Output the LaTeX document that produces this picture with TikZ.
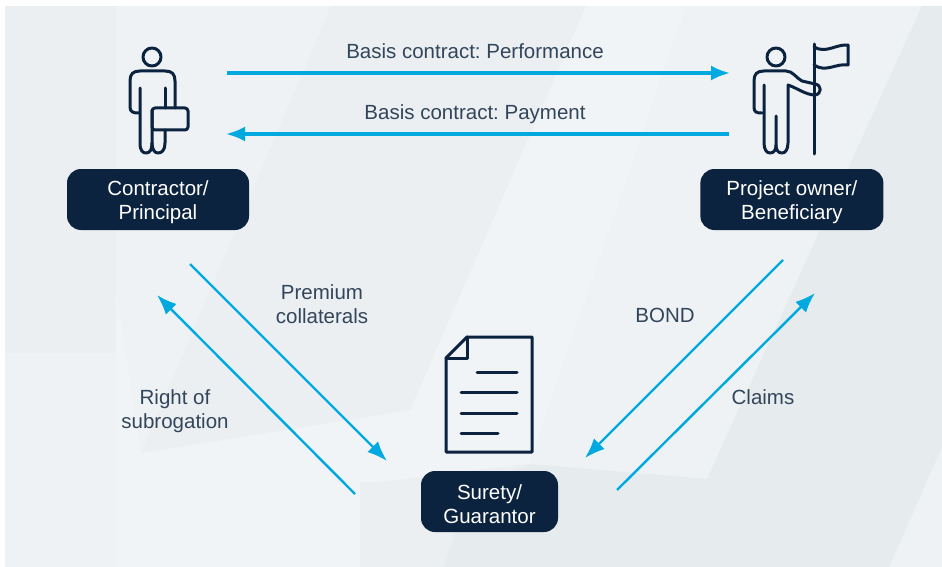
\documentclass[tikz,border=0pt]{standalone}
\usepackage{fontspec}
\setmainfont{Liberation Sans}
\usepackage{tikz}
\usetikzlibrary{positioning, calc}
\usetikzlibrary{arrows.meta}
\definecolor{navy}{HTML}{0C2340}
\definecolor{flowblue}{HTML}{00A9E0}
\definecolor{labelgrey}{HTML}{33455A}
\definecolor{bgbase}{HTML}{EEF2F4}
\definecolor{bgleft}{HTML}{EBEFF2}
\definecolor{bgleftlow}{HTML}{EEF2F4}
\definecolor{bglight}{HTML}{F0F4F6}
\definecolor{bgmid}{HTML}{EBEFF2}
\definecolor{bgdark}{HTML}{E6EBEE}
\newcommand{\topgap}{\rule{0pt}{21pt}}
\tikzset{
    party/.style={fill=navy, text=white, rounded corners=14pt, minimum height=61pt, align=center, font=\fontsize{20.5}{24}\selectfont\frenchspacing, inner sep=0pt},
    tag/.style={text=labelgrey, align=center, font=\fontsize{20.5}{24}\selectfont\frenchspacing, inner sep=0pt},
    flow/.style={draw=flowblue, fill=flowblue, line width=3.2pt, -{Latex[length=19pt,width=15pt]}},
    slant/.style={draw=flowblue, fill=flowblue, line width=2.4pt, -{Latex[length=20pt,width=15pt]}},
    icon/.style={draw=navy, line width=3pt, line cap=round, line join=round}
}
\begin{document}
\begin{tikzpicture}[x=1pt,y=-1pt]
    \useasboundingbox (0,0) rectangle (942,567);
    % background
    \fill[bgbase] (5,6) rectangle (942,567);
    \fill[bgleft] (5,6) rectangle (116,353);
    \fill[bgleftlow] (5,353) rectangle (116,567);
    \fill[bglight] (586,6) -- (686,6) -- (529,464) -- (380,482) -- (360,482) -- (360,567) -- (116,567) -- (116,290) -- (141,453) -- (410,410) -- cycle;
    \fill[bgmid] (331,6) -- (586,6) -- (410,410) -- (141,453) -- cycle;
    \fill[bgmid] (360,482) -- (380,482) -- (529,464) -- (470,490) -- (444,567) -- (360,567) -- cycle;
    \fill[bgdark] (922,6) -- (942,6) -- (942,447) -- (889,567) -- (444,567) -- (470,490) -- (529,464) -- (707,479) -- cycle;
    % parties
    \node[party, minimum width=182pt] (Con) at (158,199.5) {\topgap Contractor/\\Principal};
    \node[party, minimum width=183pt] (Own) [right=451pt of Con] {\topgap Project owner/\\Beneficiary};
    \node[party, minimum width=137pt] (Sur) at (489.5,501.5) {\topgap Surety/\\Guarantor};
    % labels
    \node[tag] (T0) at (475,51) {Basis contract: Performance};
    \node[tag] (T1) at (475,114) {Basis contract: Payment};
    \node[tag] (T2) at (322,304) {Premium\\collaterals};
    \node[tag] (T3) at (175,411) {Right of\\subrogation};
    \node[tag] (T4) at (665,315) {BOND};
    \node[tag] (T5) at (763,397) {Claims};
    % connector ends
    \coordinate (P0) at (227,73);
    \coordinate (P1) at (730,73);
    \coordinate (P2) at (729,134);
    \coordinate (P3) at (226,134);
    \coordinate (P4) at (190,264);
    \coordinate (P5) at (387,461);
    \coordinate (P6) at (355,494);
    \coordinate (P7) at (157,295);
    \coordinate (P8) at (783,260);
    \coordinate (P9) at (585,458);
    \coordinate (P10) at (617,490);
    \coordinate (P11) at (815,293);
    \draw[flow] (P0) -- (P1);
    \draw[flow] (P2) -- (P3);
    \draw[slant] (P4) -- (P5);
    \draw[slant] (P6) -- (P7);
    \draw[slant] (P8) -- (P9);
    \draw[slant] (P10) -- (P11);
    % contractor figure
    \draw[icon] (152,57) circle (9);
    \draw[icon] (139,113) .. controls (133,113) and (130,112) .. (130,107) -- (130,81) .. controls (130,74) and (133,71) .. (140,71) -- (165,71) .. controls (172,71) and (175,74) .. (175,81) -- (175,108);
    \draw[icon] (140,88) -- (140,143) .. controls (140,151) and (143,153) .. (146,153) .. controls (150,153) and (152,150) .. (152,143) -- (152,110);
    \draw[icon] (152,143) .. controls (152,150) and (155,153) .. (158,153) .. controls (162,153) and (165,150) .. (165,143) -- (165,130);
    \draw[icon] (165,88) -- (165,108);
    \draw[icon, rounded corners=3pt] (152,108) rectangle (188,130);
    % owner figure
    \draw[icon] (776,57) circle (9);
    \draw[icon] (762,113) .. controls (756,113) and (754,112) .. (754,107) -- (754,81) .. controls (754,74) and (757,71) .. (764,71) -- (786,71) .. controls (793,71) and (796,78) .. (802,81) -- (815,84) .. controls (822,85) and (822,94) .. (815,95) .. controls (806,95) and (797,88) .. (788,85) -- (788,143) .. controls (788,150) and (785,153) .. (782,153) .. controls (778,153) and (776,150) .. (776,145) -- (776,116);
    \draw[icon] (764,85) -- (764,143) .. controls (764,150) and (767,153) .. (770,153) .. controls (774,153) and (776,150) .. (776,145);
    \draw[icon] (814,44) -- (814,154);
    \draw[icon] (814,47) .. controls (826,54) and (836,44) .. (848,45) -- (848,65) .. controls (836,63) and (826,73) .. (814,65);
    % document
    \draw[icon] (467,337) -- (532,337) -- (532,452) -- (446,452) -- (446,358) -- cycle;
    \draw[icon] (467,337) -- (467,358) -- (446,358);
    \draw[icon] (477,372) -- (517,372);
    \draw[icon] (461,392) -- (517,392);
    \draw[icon] (461,413) -- (517,413);
    \draw[icon] (461,433) -- (498,433);
\end{tikzpicture}
\end{document}
